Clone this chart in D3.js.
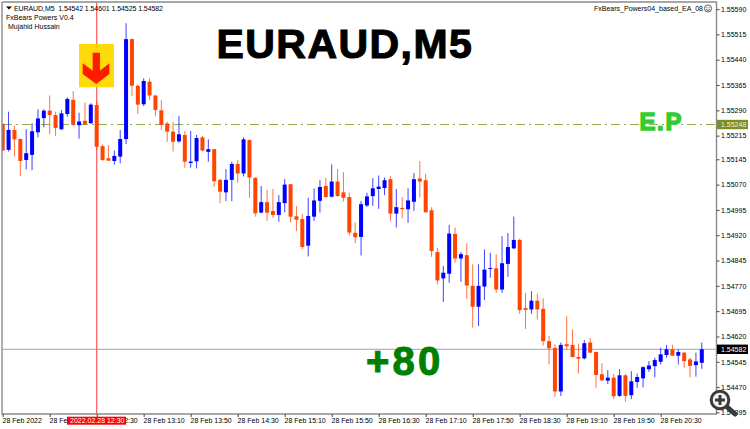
<!DOCTYPE html>
<html><head><meta charset="utf-8">
<style>html,body{margin:0;padding:0;background:#fff}svg{display:block}text{font-family:"Liberation Sans",sans-serif}</style>
<script src="https://d3js.org/d3.v7.min.js"></script></head><body>
<script>
const opens=[1.55250,1.55173,1.55232,1.55205,1.55143,1.55158,1.55225,1.55267,1.55289,1.55276,
1.55234,1.55279,1.55321,1.55246,1.55259,1.55252,1.55306,1.55184,1.55148,1.55140,
1.55153,1.55205,1.55501,1.55363,1.55308,1.55375,1.55334,1.55290,1.55251,1.55227,
1.55198,1.55217,1.55134,1.55139,1.55210,1.55167,1.55175,1.55084,1.55047,1.55084,
1.55131,1.55103,1.55202,1.55090,1.54987,1.55018,1.54992,1.54980,1.55015,1.55071,
1.54976,1.54968,1.54889,1.54975,1.55022,1.55066,1.55034,1.55079,1.55047,1.55033,
1.54927,1.54915,1.55008,1.55036,1.55057,1.55060,1.55086,1.54984,1.55001,1.54997,
1.55019,1.55088,1.55083,1.54994,1.54870,1.54792,1.54806,1.54924,1.54851,1.54861,
1.54770,1.54708,1.54768,1.54821,1.54822,1.54759,1.54835,1.54881,1.54906,1.54704,
1.54700,1.54726,1.54702,1.54606,1.54586,1.54457,1.54597,1.54595,1.54559,1.54555,
1.54602,1.54574,1.54508,1.54489,1.54498,1.54444,1.54505,1.54446,1.54485,1.54496,
1.54523,1.54532,1.54545,1.54565,1.54582,1.54563,1.54572,1.54552,1.54535,1.54542];
const closes=[1.55171,1.55232,1.55204,1.55140,1.55163,1.55228,1.55266,1.55289,1.55276,1.55238,
1.55281,1.55324,1.55247,1.55257,1.55249,1.55307,1.55182,1.55143,1.55141,1.55155,
1.55205,1.55501,1.55363,1.55307,1.55377,1.55334,1.55291,1.55247,1.55227,1.55197,
1.55219,1.55138,1.55138,1.55208,1.55171,1.55175,1.55080,1.55049,1.55084,1.55131,
1.55103,1.55204,1.55091,1.54985,1.55018,1.54987,1.54980,1.55018,1.55070,1.54975,
1.54966,1.54885,1.54977,1.55023,1.55063,1.55033,1.55079,1.55036,1.55031,1.54928,
1.54914,1.55012,1.55035,1.55059,1.55064,1.55083,1.54984,1.55003,1.54997,1.55023,
1.55086,1.55079,1.54988,1.54873,1.54786,1.54809,1.54925,1.54851,1.54864,1.54771,
1.54708,1.54770,1.54818,1.54823,1.54759,1.54837,1.54885,1.54906,1.54698,1.54699,
1.54726,1.54700,1.54606,1.54585,1.54457,1.54595,1.54591,1.54559,1.54554,1.54600,
1.54572,1.54506,1.54490,1.54498,1.54443,1.54505,1.54444,1.54487,1.54500,1.54529,
1.54534,1.54550,1.54567,1.54582,1.54563,1.54574,1.54547,1.54533,1.54546,1.54582];
const highs=[1.55250,1.55286,1.55244,1.55207,1.55234,1.55252,1.55293,1.55293,1.55334,1.55286,
1.55291,1.55328,1.55347,1.55283,1.55313,1.55311,1.55316,1.55189,1.55187,1.55171,
1.55232,1.55548,1.55503,1.55366,1.55385,1.55385,1.55336,1.55321,1.55256,1.55256,
1.55273,1.55229,1.55229,1.55217,1.55214,1.55204,1.55175,1.55087,1.55116,1.55138,
1.55143,1.55210,1.55204,1.55091,1.55066,1.55054,1.55057,1.55039,1.55086,1.55072,
1.55007,1.54983,1.55031,1.55059,1.55084,1.55090,1.55130,1.55116,1.55107,1.55046,
1.54958,1.55022,1.55046,1.55089,1.55097,1.55091,1.55095,1.55057,1.55033,1.55059,
1.55104,1.55140,1.55102,1.55003,1.54883,1.54829,1.54951,1.54943,1.54870,1.54896,
1.54834,1.54834,1.54878,1.54868,1.54864,1.54917,1.54926,1.54975,1.54910,1.54749,
1.54754,1.54747,1.54733,1.54622,1.54597,1.54602,1.54680,1.54641,1.54599,1.54609,
1.54615,1.54575,1.54541,1.54520,1.54509,1.54523,1.54510,1.54517,1.54510,1.54532,
1.54547,1.54557,1.54587,1.54595,1.54595,1.54582,1.54574,1.54558,1.54572,1.54602];
const lows=[1.55168,1.55168,1.55153,1.55096,1.55115,1.55113,1.55210,1.55240,1.55219,1.55214,
1.55232,1.55271,1.55244,1.55206,1.55247,1.55250,1.55173,1.55140,1.55140,1.55129,
1.55133,1.55190,1.55333,1.55279,1.55303,1.55321,1.55273,1.55232,1.55197,1.55168,
1.55194,1.55120,1.55120,1.55118,1.55168,1.55138,1.55064,1.55015,1.55021,1.55021,
1.55076,1.55094,1.55031,1.54975,1.54985,1.54963,1.54972,1.54960,1.54988,1.54958,
1.54932,1.54879,1.54857,1.54962,1.54987,1.55032,1.55032,1.55034,1.55020,1.54919,
1.54896,1.54860,1.55004,1.55007,1.54998,1.55039,1.54961,1.54943,1.54970,1.54957,
1.54992,1.55032,1.54987,1.54856,1.54774,1.54722,1.54779,1.54839,1.54782,1.54731,
1.54646,1.54651,1.54728,1.54794,1.54749,1.54749,1.54797,1.54879,1.54687,1.54642,
1.54687,1.54670,1.54593,1.54537,1.54441,1.54444,1.54582,1.54558,1.54510,1.54552,
1.54572,1.54468,1.54489,1.54479,1.54435,1.54441,1.54426,1.54434,1.54468,1.54469,
1.54515,1.54499,1.54537,1.54557,1.54563,1.54537,1.54527,1.54499,1.54501,1.54524];
const priceTicks=["1.55590","1.55515","1.55440","1.55365","1.55290","1.55215","1.55145","1.55070","1.54995","1.54920","1.54845","1.54770","1.54695","1.54620","1.54545","1.54470","1.54395"];
const timeLabels=["28 Feb 2022","28 Feb 11:50","28 Feb 12:30","28 Feb 13:10","28 Feb 13:50","28 Feb 14:30","28 Feb 15:10","28 Feb 15:50","28 Feb 16:30","28 Feb 17:10","28 Feb 17:50","28 Feb 18:30","28 Feb 19:10","28 Feb 19:50","28 Feb 20:30"];
const barsPerLabel=8, entryPrice=1.55248, lastPrice=1.54582, crossBar=16;
const BLUE="#0000ff",ORANGE="#ff4500";
const FS=7, TC="#000";

const W=750,H=429;
const x=d3.scaleLinear().domain([0,119]).range([2.7,701.8]);
const y=d3.scaleLinear().domain([1.54395,1.5559]).range([412.4,9.1]);
const svg=d3.select("body").append("svg").attr("width",W).attr("height",H);
const plot=svg.append("g");

plot.append("line").attr("x1",3).attr("x2",716).attr("y1",y(entryPrice)).attr("y2",y(entryPrice))
  .attr("stroke","#8fb04a").attr("stroke-width",1).attr("stroke-dasharray","9,4,2,4");
plot.append("line").attr("x1",3).attr("x2",716).attr("y1",y(lastPrice)).attr("y2",y(lastPrice))
  .attr("stroke","#98a2b0").attr("stroke-width",1);

plot.append("line").attr("x1",x(crossBar)).attr("x2",x(crossBar)).attr("y1",2).attr("y2",414)
  .attr("stroke","#ff5a5a").attr("stroke-width",1.2);

plot.append("rect").attr("x",79).attr("y",44).attr("width",35).attr("height",43.3).attr("fill","#ffd700").attr("opacity",.96);
plot.append("polygon").attr("points","92.7,52.7 100,52.7 100,70.7 109.3,63.3 109.3,74 96.3,84 82.7,74 82.7,63.3 92.7,70.7").attr("fill","#ff1a00");

const idx=d3.range(opens.length);
const bodyW=4;
const gc=plot.append("g").attr("clip-path","url(#c)");
svg.append("clipPath").attr("id","c").append("rect").attr("x",2).attr("y",2).attr("width",715).attr("height",412);
gc.selectAll("line.w").data(idx).join("line").attr("class","w")
  .attr("x1",i=>x(i)).attr("x2",i=>x(i)).attr("y1",i=>y(highs[i])).attr("y2",i=>y(lows[i]))
  .attr("stroke",i=>closes[i]>=opens[i]?BLUE:ORANGE).attr("stroke-width",1).attr("stroke-opacity",.75);
gc.selectAll("rect.b").data(idx).join("rect").attr("class","b")
  .attr("x",i=>x(i)-bodyW/2).attr("width",bodyW)
  .attr("y",i=>y(Math.max(opens[i],closes[i])))
  .attr("height",i=>Math.max(1,Math.abs(y(opens[i])-y(closes[i]))))
  .attr("fill",i=>closes[i]>=opens[i]?BLUE:ORANGE);

svg.append("path").attr("d","M2,2V414H716.5V2H2").attr("fill","none").attr("stroke","#8a8a8a").attr("stroke-width",1.4);

const yAxis=d3.axisRight(y).tickValues(priceTicks.map(Number)).tickFormat((d,i)=>priceTicks[i]).tickSize(3).tickPadding(1.5);
const ya=svg.append("g").attr("transform","translate(716.5,0)").call(yAxis);
ya.select(".domain").remove();
ya.selectAll("line").attr("stroke","#444");
ya.selectAll("text").attr("font-size",FS).attr("fill",TC);

const xAxis=d3.axisBottom(x).tickValues(timeLabels.map((d,i)=>i*barsPerLabel)).tickFormat((d,i)=>timeLabels[i]).tickSize(3).tickPadding(1);
const xa=svg.append("g").attr("transform","translate(0,414)").call(xAxis);
xa.select(".domain").remove();
xa.selectAll("line").attr("stroke","#444");
xa.selectAll("text").attr("font-size",FS).attr("fill",TC).attr("text-anchor","start").attr("dx",-0.7);

function tag(p,bg,fg){
  svg.append("rect").attr("x",717).attr("y",y(p)-4.7).attr("width",31).attr("height",9.4).attr("fill",bg);
  svg.append("text").attr("x",721).attr("y",y(p)+2.6).attr("font-size",FS).attr("fill",fg).text(p.toFixed(5));
}
tag(entryPrice,"#7d8f24","#eef0d8");
tag(lastPrice,"#000","#fff");

svg.append("rect").attr("x",67).attr("y",416.7).attr("width",59).attr("height",8).attr("fill","#ff0000");
svg.append("text").attr("x",70).attr("y",423.2).attr("font-size",FS).attr("fill","#fff").text("2022.02.28 12:30");

svg.append("path").attr("d","M6,6.5H12L9,9.5Z").attr("fill","#000");
svg.append("text").attr("x",14).attr("y",10.5).attr("font-size",FS).attr("fill",TC).attr("xml:space","preserve").attr("textLength",149).text("EURAUD,M5  1.54542 1.54601 1.54525 1.54582");
svg.append("text").attr("x",6).attr("y",20).attr("font-size",FS).attr("fill",TC).text("FxBears Powers V0.4");
svg.append("text").attr("x",8).attr("y",29).attr("font-size",FS).attr("fill",TC).text("Mujahid Hussain");
svg.append("text").attr("x",703).attr("y",10.5).attr("font-size",FS).attr("fill",TC).attr("text-anchor","end").text("FxBears_Powers04_based_EA_08");
const s=svg.append("g").attr("transform","translate(708,8.5)").attr("fill","none").attr("stroke","#444").attr("stroke-width",.8);
s.append("circle").attr("r",3.6).attr("fill","#eee");
s.append("path").attr("d","M-2,1 Q0,3 2,1");
s.append("path").attr("d","M-1.3,-1.2v.8M1.3,-1.2v.8");

svg.append("text").attr("x",216.5).attr("y",57.5).attr("font-weight","bold").attr("font-size",41).attr("fill","#000").attr("stroke","#000").attr("stroke-width",1.1).attr("letter-spacing",1.45).text("EURAUD,M5");
svg.append("text").attr("x",366).attr("y",375.2).attr("font-weight","bold").attr("font-size",40).attr("fill","#008000").attr("stroke","#008000").attr("stroke-width",1).attr("letter-spacing",3.2).text("+80");
svg.append("text").attr("x",639.5).attr("y",130.3).attr("font-weight","bold").attr("font-size",24).attr("fill","#32cd32").attr("stroke","#32cd32").attr("stroke-width",1.4).attr("letter-spacing",1.6).text("E.P");

const z=svg.append("g").attr("transform","translate(720,400)");
z.append("line").attr("x1",6).attr("y1",6).attr("x2",15).attr("y2",14).attr("stroke","#3a3a3a").attr("stroke-width",5).attr("stroke-linecap","round");
z.append("circle").attr("r",8.8).attr("fill","#f4f4f4").attr("stroke","#3a3a3a").attr("stroke-width",3);
z.append("path").attr("d","M-5,0H5M0,-5V5").attr("stroke","#3a3a3a").attr("stroke-width",3);
</script></body></html>
